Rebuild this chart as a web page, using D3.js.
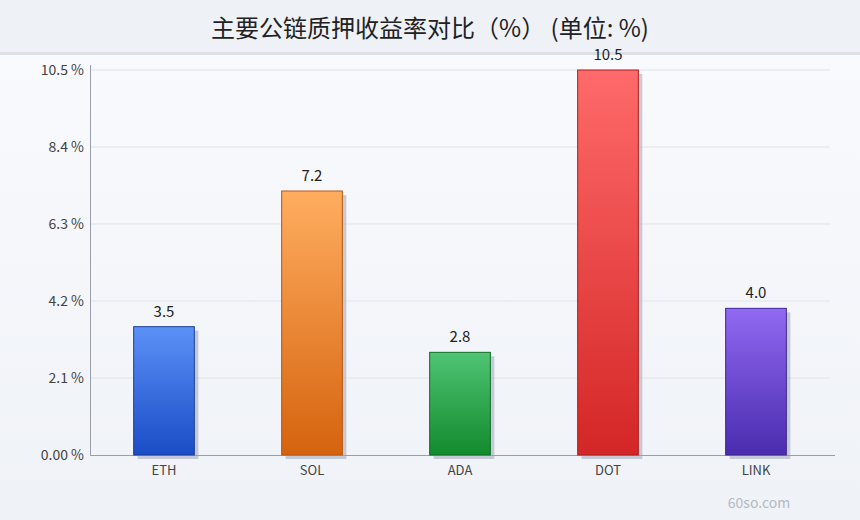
<!DOCTYPE html>
<html>
<head>
<meta charset="utf-8">
<title>主要公链质押收益率对比</title>
<style>
  body { margin: 0; background: #eef1f6; }
  svg { display: block; font-family: "Noto Sans CJK SC", "Noto Sans", sans-serif; }
</style>
</head>
<body>
<script src="https://cdn.jsdelivr.net/npm/d3@7/dist/d3.min.js"></script>
<script>
// data
var chains = ["ETH", "SOL", "ADA", "DOT", "LINK"];
var yields = [3.5, 7.2, 2.8, 10.5, 4.0];
var tickValues = [0, 2.1, 4.2, 6.3, 8.4, 10.5];
var tickLabels = ["0.00 %", "2.1 %", "4.2 %", "6.3 %", "8.4 %", "10.5 %"];
var barTop = ["#5b91f7", "#ffad60", "#4fc474", "#ff6a6a", "#9169f2"];
var barBottom = ["#1a4cc6", "#d5630e", "#138a2d", "#d42626", "#4a2cae"];
var barStroke = ["#1c3f9e", "#b9560e", "#0f6e24", "#b01f1f", "#3e2596"];

var W = 860, H = 520;
var margin = {top: 70, right: 30, bottom: 65, left: 90};
var width = W - margin.left - margin.right,
    height = H - margin.top - margin.bottom;

var svg = d3.select("body").append("svg")
  .attr("width", W).attr("height", H);

var defs = svg.append("defs");
var bg = defs.append("linearGradient").attr("id", "bg")
  .attr("x1", 0).attr("y1", 0).attr("x2", 0).attr("y2", 1);
bg.append("stop").attr("offset", "0%").attr("stop-color", "#f9fafd");
bg.append("stop").attr("offset", "100%").attr("stop-color", "#eff2f7");

chains.forEach(function(c, i) {
  var g = defs.append("linearGradient").attr("id", "grad" + i)
    .attr("x1", 0).attr("y1", 0).attr("x2", 0).attr("y2", 1);
  g.append("stop").attr("offset", "0%").attr("stop-color", barTop[i]);
  g.append("stop").attr("offset", "100%").attr("stop-color", barBottom[i]);
});

// background + title band
svg.append("rect").attr("width", W).attr("height", H).attr("fill", "#eef1f6");
svg.append("rect").attr("y", 55).attr("width", W).attr("height", H - 55).attr("fill", "url(#bg)");
svg.append("rect").attr("y", 52).attr("width", W).attr("height", 3).attr("fill", "#dcdfe7");

svg.append("text")
  .attr("x", W / 2).attr("y", 37)
  .attr("text-anchor", "middle")
  .style("font-size", "24px")
  .style("fill", "#222")
  .text("主要公链质押收益率对比（%） (单位: %)");

var chart = svg.append("g")
  .attr("transform", "translate(" + margin.left + "," + margin.top + ")");

var xScale = d3.scaleBand().domain(chains).range([0, width]).padding(0);
var yScale = d3.scaleLinear().domain([0, 10.5]).range([height, 0]);

// grid
chart.append("g").selectAll("line")
  .data(tickValues.slice(1))
  .enter().append("line")
  .attr("x1", 0).attr("x2", width)
  .attr("y1", function(d) { return yScale(d); })
  .attr("y2", function(d) { return yScale(d); })
  .attr("stroke", "#e0e3ea").attr("stroke-width", 1);

// y axis
var yAxis = chart.append("g")
  .call(d3.axisLeft(yScale).tickValues(tickValues)
    .tickSize(0).tickPadding(6)
    .tickFormat(function(d, i) { return tickLabels[i]; }));
yAxis.select(".domain").remove();
yAxis.selectAll("text").style("font-size", "14px").style("fill", "#444")
  .style("font-family", "\"Noto Sans CJK SC\", \"Noto Sans\", sans-serif");
chart.append("line")
  .attr("x1", 0.5).attr("x2", 0.5).attr("y1", -5).attr("y2", height)
  .attr("stroke", "#9a9ea8");

// x axis
var xAxis = chart.append("g")
  .attr("transform", "translate(0," + height + ")")
  .call(d3.axisBottom(xScale).tickSize(0).tickPadding(11));
xAxis.select(".domain").remove();
xAxis.selectAll("text").style("font-size", "13px").style("fill", "#444")
  .style("font-family", "\"Noto Sans CJK SC\", \"Noto Sans\", sans-serif");
chart.append("line")
  .attr("x1", 0).attr("x2", width + 5).attr("y1", height + 0.5).attr("y2", height + 0.5)
  .attr("stroke", "#9a9ea8");

var barW = xScale.bandwidth() * 0.41;

// shadows
chart.append("g").selectAll("rect")
  .data(yields)
  .enter().append("rect")
  .attr("x", function(d, i) { return xScale(chains[i]) + (xScale.bandwidth() - barW) / 2 + 4; })
  .attr("y", function(d) { return yScale(d) + 4; })
  .attr("width", barW)
  .attr("height", function(d) { return height - yScale(d); })
  .attr("fill", "#9aa0b4").attr("opacity", 0.5);

// bars
chart.append("g").selectAll("rect")
  .data(yields)
  .enter().append("rect")
  .attr("x", function(d, i) { return xScale(chains[i]) + (xScale.bandwidth() - barW) / 2; })
  .attr("y", function(d) { return yScale(d); })
  .attr("width", barW)
  .attr("height", function(d) { return height - yScale(d); })
  .attr("fill", function(d, i) { return "url(#grad" + i + ")"; })
  .attr("stroke", function(d, i) { return barStroke[i]; })
  .attr("stroke-width", 1);

// value labels
chart.append("g").selectAll("text")
  .data(yields)
  .enter().append("text")
  .attr("x", function(d, i) { return xScale(chains[i]) + xScale.bandwidth() / 2; })
  .attr("y", function(d) { return yScale(d) - 10; })
  .attr("text-anchor", "middle")
  .style("font-size", "15px")
  .style("fill", "#222")
  .text(function(d) { return d.toFixed(1); });

// watermark
svg.append("text")
  .attr("x", 759).attr("y", 508)
  .attr("text-anchor", "middle")
  .style("font-size", "14px")
  .style("fill", "#b4b9c4")
  .text("60so.com");
</script>
</body>
</html>
